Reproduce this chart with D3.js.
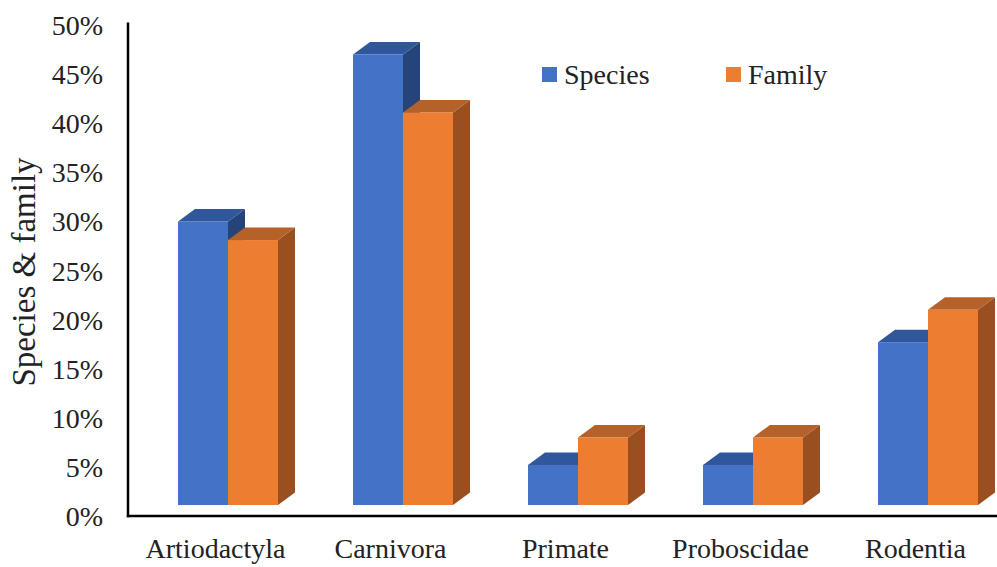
<!DOCTYPE html>
<html><head><meta charset="utf-8">
<script src="https://cdn.jsdelivr.net/npm/d3@7"></script>
<style>body{margin:0;background:#fff}svg{display:block}</style>
</head><body>
<svg id="c" width="997" height="567"></svg>
<script>
const categories = ["Artiodactyla","Carnivora","Primate","Proboscidae","Rodentia"];
const seriesNames = ["Species","Family"];
const species = [0.30, 0.47, 0.052, 0.052, 0.177];
const family  = [0.281, 0.411, 0.08, 0.08, 0.21];
const tickValues = [0,0.05,0.10,0.15,0.20,0.25,0.30,0.35,0.40,0.45,0.50];
const tickLabels = ["0%","5%","10%","15%","20%","25%","30%","35%","40%","45%","50%"];

const colors = {
  Species:{front:"#4472C4", top:"#30579C", side:"#25457A"},
  Family:{front:"#ED7D31", top:"#B5612A", side:"#9A4F21"}
};
const font = "'Liberation Serif','Times New Roman',serif";
const svg = d3.select("#c");
const x0 = 128, xRight = 1003, yBase = 516, yTop = 25;
const x = d3.scaleBand().domain(categories).range([x0, xRight]).padding(0);
const y = d3.scaleLinear().domain([0,0.5]).range([yBase, yTop]);
const xs = d3.scaleBand().domain(seriesNames).range([0,100]);
const offX = 12.5, offY = -11, dX = 17, dY = -12.5;

const data = [];
categories.forEach((c,i)=>{
  data.push({cat:c, s:"Species", v:species[i]});
  data.push({cat:c, s:"Family", v:family[i]});
});

const g = svg.append("g");
data.forEach(d=>{
  const left = x(d.cat) + x.bandwidth()/2 - 50 + offX + xs(d.s);
  const w = xs.bandwidth();
  const bottom = y(0) + offY;
  const top = y(d.v);
  const c = colors[d.s];
  g.append("path").attr("fill", c.side)
    .attr("d", `M${left+w},${bottom}L${left+w+dX},${bottom+dY}L${left+w+dX},${top+dY}L${left+w},${top}Z`);
  g.append("path").attr("fill", c.top)
    .attr("d", `M${left},${top}L${left+dX},${top+dY}L${left+w+dX},${top+dY}L${left+w},${top}Z`);
  g.append("rect").attr("x", left).attr("y", top).attr("width", w).attr("height", bottom-top).attr("fill", c.front);
});

svg.append("line").attr("x1",x0).attr("x2",x0).attr("y1",22.5).attr("y2",yBase+1.2).attr("stroke","#000").attr("stroke-width",2.5);
svg.append("line").attr("x1",x0-1.2).attr("x2",997).attr("y1",yBase).attr("y2",yBase).attr("stroke","#000").attr("stroke-width",2.5);

const yAxis = d3.axisLeft(y).tickValues(tickValues).tickFormat((d,i)=>tickLabels[i]).tickSize(0).tickPadding(0);
const ya = svg.append("g").attr("transform","translate(103,0)").call(yAxis);
ya.select(".domain").remove();
ya.selectAll("text").attr("font-family",font).attr("font-size",28).attr("fill","#222").attr("dy","0.34em");

const xAxis = d3.axisBottom(x).tickSize(0).tickPadding(0);
const xa = svg.append("g").attr("transform","translate(0,558)").call(xAxis);
xa.select(".domain").remove();
xa.selectAll("text").attr("font-family",font).attr("font-size",28).attr("fill","#222").attr("dy","0");

svg.append("text").attr("transform","translate(35,272) rotate(-90)").attr("text-anchor","middle")
  .attr("font-family",font).attr("font-size",33).attr("fill","#222").text("Species & family");

const legX = [542, 726];
seriesNames.forEach((s,i)=>{
  svg.append("rect").attr("x",legX[i]).attr("y",67).attr("width",15).attr("height",15).attr("fill",colors[s].front);
  svg.append("text").attr("x",legX[i]+22).attr("y",84).attr("font-family",font).attr("font-size",28).attr("fill","#222").text(s);
});
</script>
</body></html>
